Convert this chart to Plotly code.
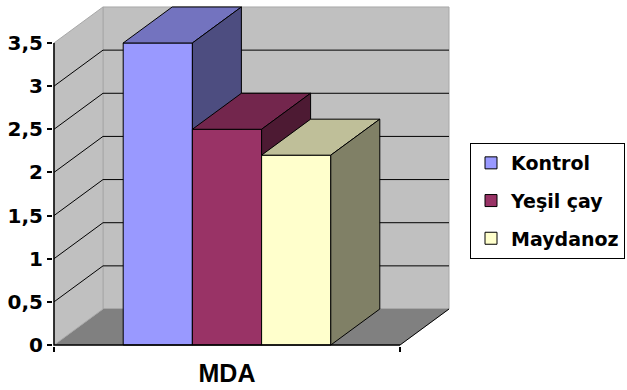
import plotly.graph_objects as go

# ---- data ----
categories = ["MDA"]
series = ["Kontrol", "Yeşil çay", "Maydanoz"]
values = [3.5, 2.5, 2.2]
tick_values = [0, 0.5, 1, 1.5, 2, 2.5, 3, 3.5]
tick_labels = ["0", "0,5", "1", "1,5", "2", "2,5", "3", "3,5"]
front_colors = ["#9999FF", "#993366", "#FFFFCC"]
top_colors = ["#7373BF", "#73264D", "#BFBF99"]
side_colors = ["#4D4D80", "#4D1A33", "#808066"]

# ---- geometry (axis units) ----
W, H = 627, 390
ppx = 346.0      # px per x unit
ppy = 86.29      # px per value unit
DX = 49 / ppx    # depth offset in x units
DY = 36 / ppy    # depth offset in value units
y_top = tick_values[-1]
bar_w = 0.2
group_left = -bar_w * len(series) / 2
L, R, T, B = 53, 177, 5, 44
Wp = W - L - R
Hp = H - T - B

fig = go.Figure()


def poly(xs, ys, fill, line="black", width=1, xaxis="x"):
    fig.add_trace(go.Scatter(
        x=list(xs) + [xs[0]], y=list(ys) + [ys[0]], mode="lines", fill="toself",
        fillcolor=fill, line=dict(color=line, width=width), hoverinfo="skip",
        showlegend=False, xaxis=xaxis))


# back wall
poly([-0.5 + DX, 0.5 + DX, 0.5 + DX, -0.5 + DX], [DY, DY, y_top + DY, y_top + DY], "#C0C0C0", "#A8A8A8")
# floor
poly([-0.5, 0.5, 0.5 + DX, -0.5 + DX], [0, 0, DY, DY], "#808080", "#808080", 0.5)
# left wall
poly([-0.5, -0.5 + DX, -0.5 + DX, -0.5], [0, DY, y_top + DY, y_top], "#C0C0C0", "#A8A8A8")

# gridlines
gx, gy = [], []
for v in tick_values[1:-1]:
    gx += [-0.5, -0.5 + DX, 0.5 + DX, None]
    gy += [v, v + DY, v + DY, None]
gx += [0.5, 0.5 + DX, None]
gy += [0, DY, None]
fig.add_trace(go.Scatter(x=gx, y=gy, mode="lines", line=dict(color="black", width=1),
                         hoverinfo="skip", showlegend=False))

# bars
for i, (name, v) in enumerate(zip(series, values)):
    x0 = group_left + i * bar_w
    x1 = x0 + bar_w
    poly([x0, x1, x1, x0], [0, 0, v, v], front_colors[i])
    poly([x0, x1, x1 + DX, x0 + DX], [v, v, v + DY, v + DY], top_colors[i])
    poly([x1, x1 + DX, x1 + DX, x1], [0, DY, v + DY, v], side_colors[i])

# axis lines (front)
fig.add_trace(go.Scatter(x=[-0.5, -0.5, 0.5], y=[y_top, 0, 0], mode="lines",
                         line=dict(color="black", width=1.5), hoverinfo="skip",
                         showlegend=False, xaxis="x2"))

# legend entries
for i, name in enumerate(series):
    fig.add_trace(go.Scatter(x=[None], y=[None], mode="markers", name=name,
                             legendgroup=name,
                             marker=dict(symbol="square", size=12, color=front_colors[i],
                                         line=dict(color="black", width=1))))

xr = [-0.5 - 1 / ppx, -0.5 - 1 / ppx + Wp / ppx]
yr = [-1 / ppy, -1 / ppy + Hp / ppy]

fig.update_layout(
    width=W, height=H,
    margin=dict(l=L, r=R, t=T, b=B, autoexpand=False),
    paper_bgcolor="white", plot_bgcolor="white",
    xaxis=dict(range=xr, showgrid=False, zeroline=False, showline=False,
               tickmode="array", tickvals=[0], ticktext=categories, ticks="",
               ticklabelstandoff=10,
               tickfont=dict(family="Liberation Sans", size=25, color="black", weight="bold")),
    xaxis2=dict(range=xr, overlaying="x", anchor="y", side="bottom", showgrid=False,
                zeroline=False, showline=False, tickmode="array", tickvals=[-0.5, 0.5],
                ticks="outside", ticklen=5, tickcolor="black", tickwidth=1.5,
                showticklabels=False),
    yaxis=dict(range=yr, showgrid=False, zeroline=False, showline=False,
               tickmode="array", tickvals=tick_values, ticktext=tick_labels,
               ticks="outside", ticklen=5, tickcolor="black", tickwidth=1.5,
               ticklabelstandoff=0,
               tickfont=dict(family="DejaVu Sans", size=20, color="black", weight="bold")),
    showlegend=True,
    legend=dict(x=(470 - L) / Wp, xanchor="left", y=(H - B - 143) / Hp, yanchor="top",
                bgcolor="white", bordercolor="black", borderwidth=1,
                traceorder="grouped", tracegroupgap=10, itemwidth=30,
                font=dict(family="DejaVu Sans", size=19, color="black", weight="bold")),
)

fig.write_html("out.html")
